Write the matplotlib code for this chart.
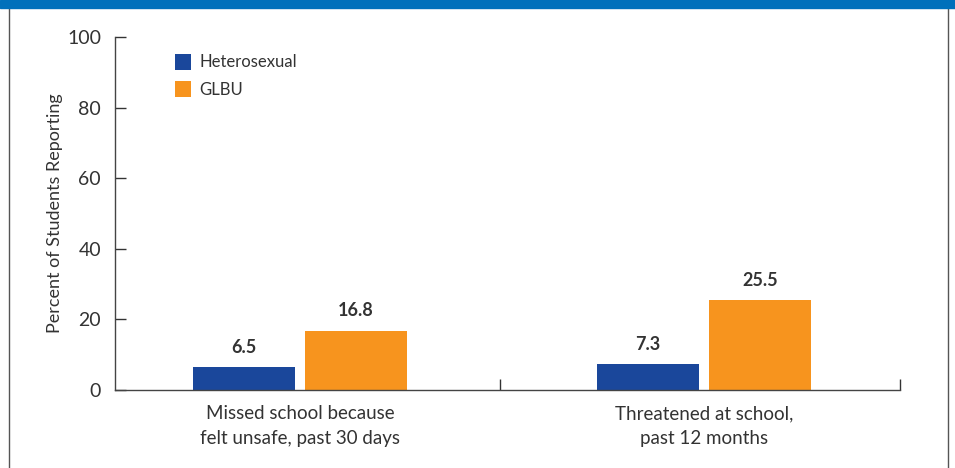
import matplotlib.pyplot as plt
from matplotlib.patches import Rectangle
import numpy as np

# Data
categories = ['Missed school because\nfelt unsafe, past 30 days', 'Threatened at school,\npast 12 months']
heterosexual = [6.5, 7.3]
glbu = [16.8, 25.5]
series_names = ['Heterosexual', 'GLBU']
yticks = [0, 20, 40, 60, 80, 100]

blue = '#1a479b'
orange = '#f7941e'
text_col = '#333333'

plt.rcParams['font.family'] = ['Lato', 'DejaVu Sans']

fig = plt.figure(figsize=(9.55, 4.68), dpi=100)
ax = fig.add_axes([0.1204, 0.1667, 0.822, 0.7543])

x = np.arange(len(categories))
w = 0.2525
off = 0.1386
b1 = ax.bar(x - off, heterosexual, w, color=blue, label=series_names[0])
b2 = ax.bar(x + off, glbu, w, color=orange, label=series_names[1])

for bars, vals in [(b1, heterosexual), (b2, glbu)]:
    for rect, v in zip(bars, vals):
        ax.text(rect.get_x() + rect.get_width() / 2, v + 3.2, f'{v:.1f}',
                ha='center', va='bottom', fontsize=13, fontweight='bold', color=text_col)

ax.set_xlim(-0.458, 1.485)
ax.set_ylim(0, 100)
ax.set_yticks(yticks)
ax.tick_params(axis='y', direction='in', length=8, width=1, colors=text_col,
               labelsize=14, pad=10)
ax.set_xticks([0.495, 1.485])
ax.set_xticklabels(['', ''])
ax.tick_params(axis='x', direction='in', length=8, width=1, colors=text_col)
for i, c in enumerate(categories):
    ax.text(x[i], -4.3, c, ha='center', va='top', fontsize=13.5, color=text_col,
            linespacing=1.55, transform=ax.transData)

for s in ['top', 'right']:
    ax.spines[s].set_visible(False)
for s in ['left', 'bottom']:
    ax.spines[s].set_color('#444444')
    ax.spines[s].set_linewidth(1)

ax.set_ylabel('Percent of Students Reporting', fontsize=13, color=text_col, labelpad=3)

leg = ax.legend(loc='upper left', bbox_to_anchor=(0.057, 0.995), frameon=False,
                fontsize=12, handlelength=1.0, handleheight=1.1, handletextpad=0.5,
                labelspacing=0.65)
for t in leg.get_texts():
    t.set_color(text_col)

# frame and top band
fig.patches.append(Rectangle((0.009, -0.01), 0.984, 1.0, transform=fig.transFigure,
                             fill=False, edgecolor='#555555', linewidth=1, figure=fig))
fig.patches.append(Rectangle((0, 0.982), 1, 0.018, transform=fig.transFigure,
                             color='#0070bb', figure=fig))

fig.savefig('out.png', dpi=100)
